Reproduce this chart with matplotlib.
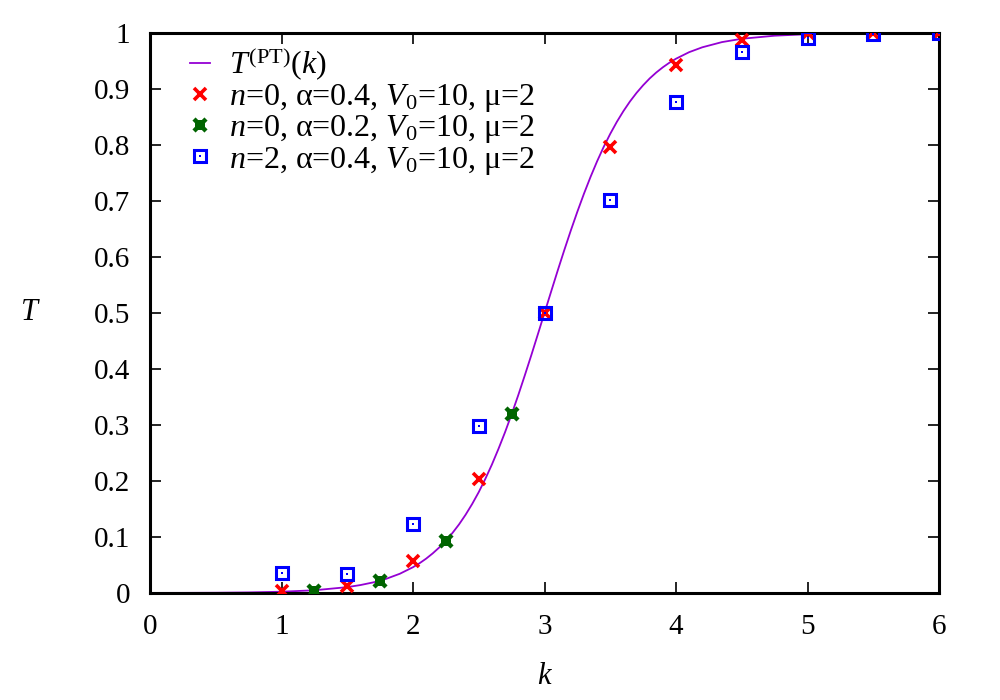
import matplotlib
matplotlib.use("Agg")
import matplotlib.pyplot as plt
from matplotlib.legend_handler import HandlerTuple

plt.rcParams['font.family'] = ['Liberation Serif', 'DejaVu Serif']
plt.rcParams['mathtext.fontset'] = 'custom'
plt.rcParams['mathtext.rm'] = 'Liberation Serif'
plt.rcParams['mathtext.it'] = 'Liberation Serif:italic'

# T^(PT)(k) curve
k_curve = [0.0, 0.25, 0.5, 0.75, 1.0, 1.25, 1.5, 1.6, 1.7, 1.75, 1.8, 1.9, 2.0,
           2.05, 2.1, 2.15, 2.2, 2.25, 2.3, 2.35, 2.4, 2.45, 2.5, 2.55, 2.6, 2.65,
           2.7, 2.75, 2.8, 2.85, 2.9, 2.95, 3.0, 3.05, 3.1, 3.15, 3.2, 3.25, 3.3,
           3.35, 3.4, 3.45, 3.5, 3.55, 3.6, 3.65, 3.7, 3.75, 3.8, 3.85, 3.9, 3.95,
           4.0, 4.1, 4.2, 4.35, 4.5, 4.75, 5.0, 5.5, 6.0]
t_curve = [0.0, 0.00007, 0.0003, 0.0009, 0.0021, 0.0047, 0.0103, 0.014, 0.0189, 0.0219,
           0.0255, 0.0342, 0.0459, 0.053, 0.0612, 0.0706, 0.0812, 0.0933, 0.107,
           0.1223, 0.1396, 0.1588, 0.180, 0.2036, 0.2292, 0.2572, 0.287, 0.319,
           0.3528, 0.3883, 0.4247, 0.4622, 0.5, 0.5378, 0.5753, 0.6118, 0.6471,
           0.6808, 0.7128, 0.7428, 0.7707, 0.7964, 0.8198, 0.8411, 0.8603, 0.8776,
           0.8929, 0.9065, 0.9187, 0.9293, 0.9386, 0.9468, 0.9539, 0.9656, 0.9743,
           0.9836, 0.9895, 0.995, 0.9977, 0.9995, 0.9999]

# n=0, alpha=0.4
k_a = [1.0, 1.5, 2.0, 2.5, 3.0, 3.5, 4.0, 4.5, 5.0, 5.5, 6.0]
t_a = [0.004, 0.013, 0.057, 0.204, 0.5, 0.796, 0.943, 0.9875, 0.999, 0.999, 1.0]

# n=0, alpha=0.2
k_b = [1.25, 1.75, 2.25, 2.75]
t_b = [0.004, 0.0214, 0.093, 0.320]

# n=2, alpha=0.4
k_c = [1.0, 1.5, 2.0, 2.5, 3.0, 3.5, 4.0, 4.5, 5.0, 5.5, 6.0]
t_c = [0.036, 0.0345, 0.123, 0.298, 0.5, 0.701, 0.877, 0.9655, 0.9917, 0.998, 0.9995]

x_ticks = [0, 1, 2, 3, 4, 5, 6]
y_ticks = [0, 0.1, 0.2, 0.3, 0.4, 0.5, 0.6, 0.7, 0.8, 0.9, 1]
y_labels = ['0', '0.1', '0.2', '0.3', '0.4', '0.5', '0.6', '0.7', '0.8', '0.9', '1']

fig = plt.figure(figsize=(10, 7), dpi=100)
ax = fig.add_axes([0.150, 0.153, 0.789, 0.800])

purple = '#9400d3'
red = '#ff0000'
green = '#006400'
blue = '#0000ff'

ln, = ax.plot(k_curve, t_curve, color=purple, lw=1.3, zorder=2)
ra, = ax.plot(k_a, t_a, ls='none', marker='x', ms=8, mew=2.6, color=red, zorder=3)
gb1, = ax.plot(k_b, t_b, ls='none', marker='x', ms=8, mew=3.2, color=green, zorder=3)
gb2, = ax.plot(k_b, t_b, ls='none', marker='s', ms=7, mew=0, color=green, zorder=3)
bc1, = ax.plot(k_c, t_c, ls='none', marker='s', ms=8, mew=2.2, mfc='none', color=blue, zorder=4)
bc2, = ax.plot(k_c, t_c, ls='none', marker='s', ms=2, mew=0, color=blue, zorder=4)

ax.set_xlim(0, 6)
ax.set_ylim(0, 1)
ax.set_xticks(x_ticks)
ax.set_yticks(y_ticks)
ax.set_yticklabels(y_labels)
ax.tick_params(direction='in', length=8, width=1.2, top=True, right=True,
               labelsize=21, pad=14)
ax.tick_params(axis='x', pad=15)
for s in ax.spines.values():
    s.set_linewidth(2.2)

fig.text(0.030, 0.553, r'$T$', fontsize=22, ha='center', va='center')
fig.text(0.545, 0.033, r'$k$', fontsize=22, ha='center', va='center')

leg = ax.legend([ln, ra, (gb2, gb1), (bc1, bc2)],
                [r'$T^{(\mathrm{PT})}(k)$',
                 r'$n$=0, α=0.4, $V_0$=10, μ=2',
                 r'$n$=0, α=0.2, $V_0$=10, μ=2',
                 r'$n$=2, α=0.4, $V_0$=10, μ=2'],
                handler_map={tuple: HandlerTuple(ndivide=1, pad=0)},
                loc='upper left', bbox_to_anchor=(0.027, 1.012), frameon=False,
                fontsize=23, handlelength=0.6, handletextpad=0.6,
                labelspacing=-0.02, borderaxespad=0.2)

fig.savefig('out.png', dpi=100)
